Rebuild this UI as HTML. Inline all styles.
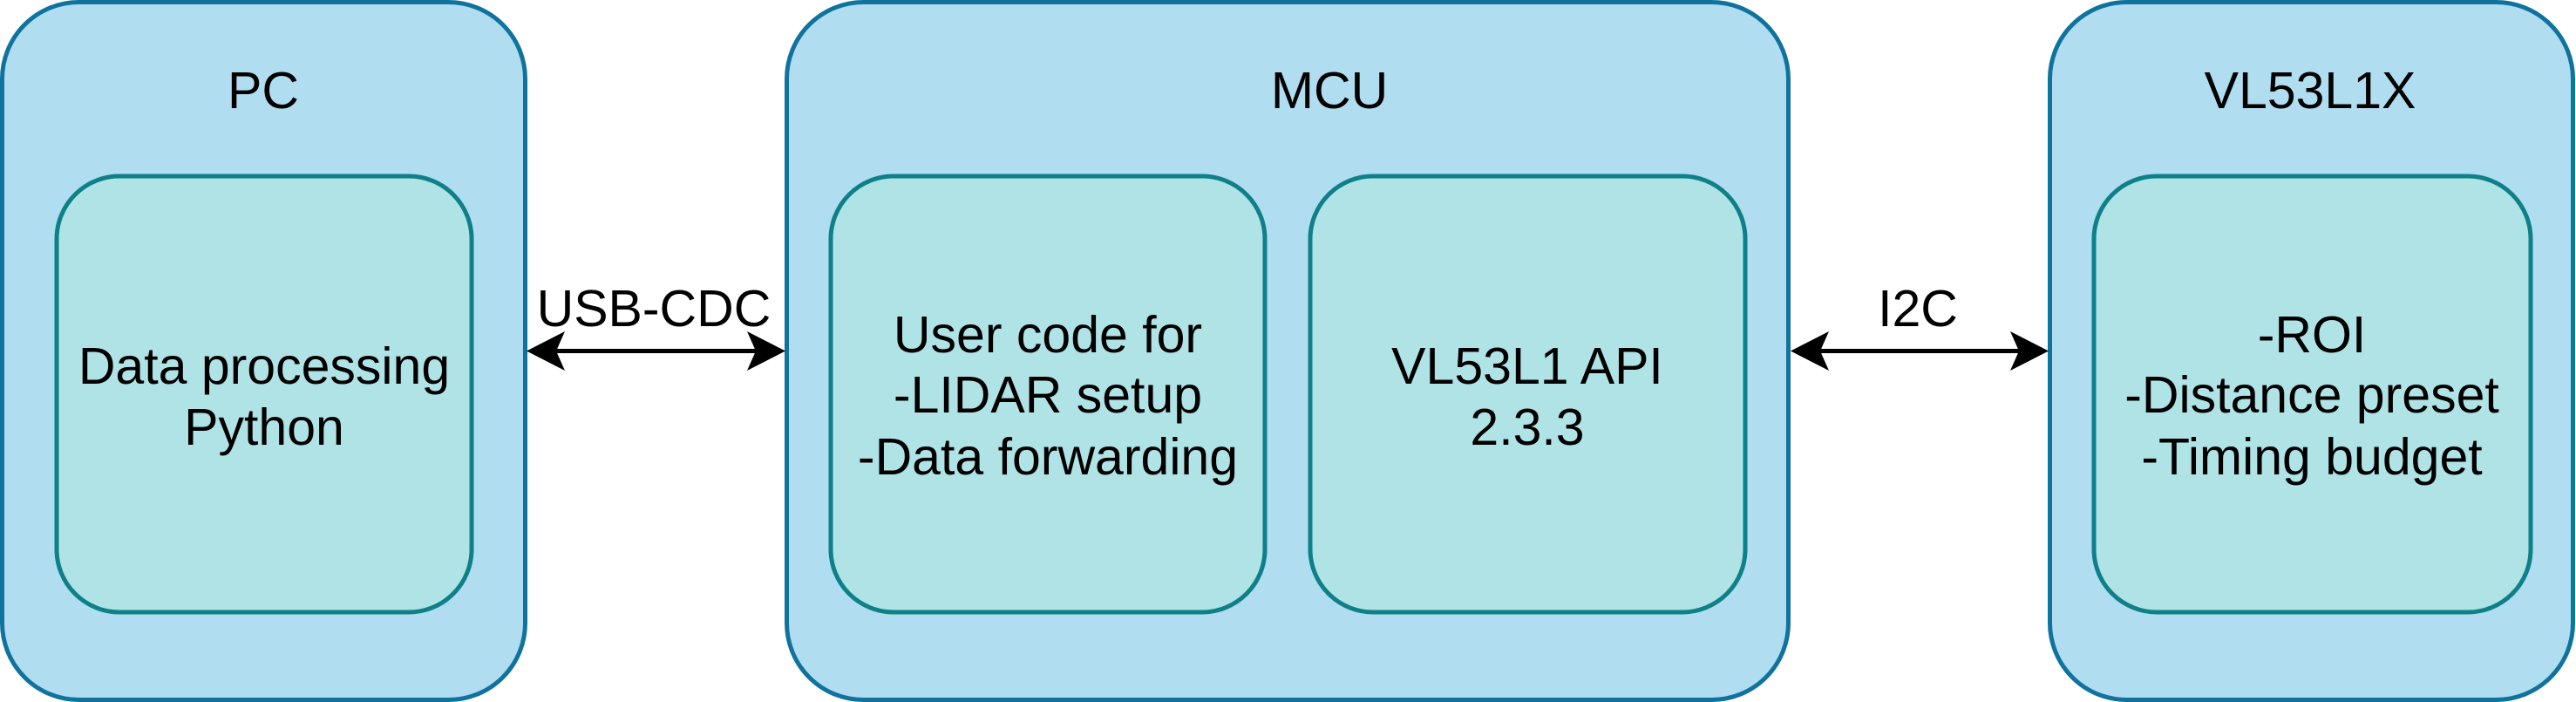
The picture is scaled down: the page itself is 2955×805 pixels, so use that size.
<!DOCTYPE html>
<html><head><meta charset="utf-8"><style>
html,body{margin:0;padding:0;background:#fff;}
svg{display:block;}
text{font-family:"Liberation Sans",Arial,sans-serif;font-size:59px;fill:#000;text-anchor:middle;}
</style></head><body>
<svg width="2955" height="805" viewBox="0 0 2955 805" xmlns="http://www.w3.org/2000/svg">
<g fill="#b1ddf0" stroke="#10739e" stroke-width="5">
<rect x="2.5" y="2.5" width="600" height="800" rx="88" ry="88"/>
<rect x="902.5" y="2.5" width="1149" height="800" rx="88" ry="88"/>
<rect x="2351.5" y="2.5" width="600" height="800" rx="88" ry="88"/>
</g>
<g fill="#b0e3e6" stroke="#0e8088" stroke-width="5">
<rect x="65" y="202" width="476" height="500" rx="72" ry="72"/>
<rect x="953" y="202" width="498" height="500" rx="72" ry="72"/>
<rect x="1503" y="202" width="499" height="500" rx="72" ry="72"/>
<rect x="2402" y="202" width="501" height="500" rx="72" ry="72"/>
</g>
<g stroke="#000" stroke-width="5">
<line x1="635" y1="402.5" x2="870" y2="402.5"/>
<line x1="2085" y1="402.5" x2="2318" y2="402.5"/>
</g>
<g fill="#000">
<polygon points="604,402.5 648,380 638,402.5 648,425"/>
<polygon points="901,402.5 857,380 867,402.5 857,425"/>
<polygon points="2054,402.5 2098,380 2088,402.5 2098,425"/>
<polygon points="2350,402.5 2306,380 2316,402.5 2306,425"/>
</g>
<text x="302" y="124">PC</text>
<text x="1525" y="124">MCU</text>
<text x="2650" y="124">VL53L1X</text>
<text x="750" y="374">USB-CDC</text>
<text x="2200" y="374">I2C</text>
<text x="303" y="440">Data processing</text>
<text x="303" y="510">Python</text>
<text x="1202" y="404">User code for</text>
<text x="1202" y="473">-LIDAR setup</text>
<text x="1202" y="544">-Data forwarding</text>
<text x="1752" y="440">VL53L1 API</text>
<text x="1752" y="510">2.3.3</text>
<text x="2652" y="404">-ROI</text>
<text x="2652" y="473">-Distance preset</text>
<text x="2652" y="544">-Timing budget</text>
</svg>
</body></html>
